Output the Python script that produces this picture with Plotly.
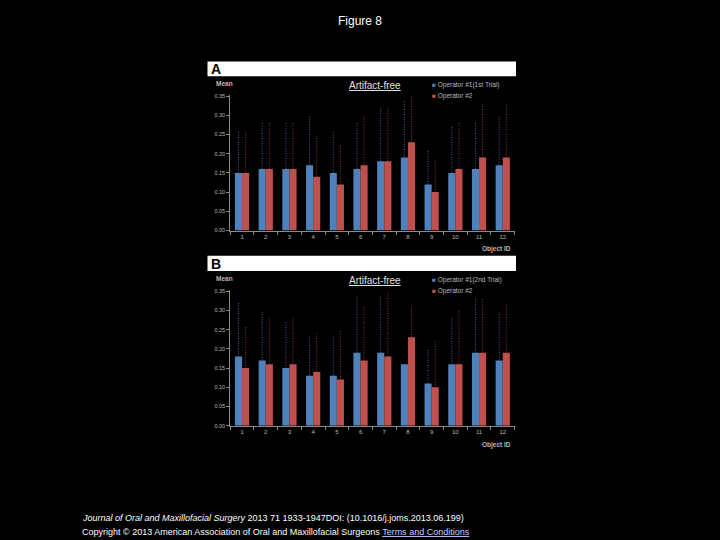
import plotly.graph_objects as go

# ---------------- data ----------------
object_ids = list(range(1, 13))
tick_labels = [str(i) for i in object_ids]
y_tick_vals = [0.00, 0.05, 0.10, 0.15, 0.20, 0.25, 0.30, 0.35]

# Panel A: Operator #1 (1st trial) vs Operator #2
a_op1_mean = [0.15, 0.16, 0.16, 0.17, 0.15, 0.16, 0.18, 0.19, 0.12, 0.15, 0.16, 0.17]
a_op1_top = [0.26, 0.28, 0.28, 0.30, 0.26, 0.28, 0.32, 0.34, 0.21, 0.27, 0.28, 0.30]
a_op2_mean = [0.15, 0.16, 0.16, 0.14, 0.12, 0.17, 0.18, 0.23, 0.10, 0.16, 0.19, 0.19]
a_op2_top = [0.26, 0.28, 0.28, 0.25, 0.22, 0.30, 0.32, 0.35, 0.18, 0.28, 0.33, 0.33]

# Panel B: Operator #1 (2nd trial) vs Operator #2
b_op1_mean = [0.18, 0.17, 0.15, 0.13, 0.13, 0.19, 0.19, 0.16, 0.11, 0.16, 0.19, 0.17]
b_op1_top = [0.32, 0.30, 0.27, 0.23, 0.23, 0.34, 0.34, 0.16, 0.20, 0.28, 0.33, 0.30]
b_op2_mean = [0.15, 0.16, 0.16, 0.14, 0.12, 0.17, 0.18, 0.23, 0.10, 0.16, 0.19, 0.19]
b_op2_top = [0.26, 0.28, 0.28, 0.24, 0.25, 0.31, 0.35, 0.31, 0.22, 0.30, 0.33, 0.32]

panel_a_names = ["Operator #1(1st Trial)", "Operator #2"]
panel_b_names = ["Operator #1(2nd Trial)", "Operator #2"]

# ---------------- style ----------------
BLUE = "#4F81BD"
RED = "#C0504D"
BLUE_ERR = "rgba(100,140,200,0.7)"
RED_ERR = "rgba(190,80,75,0.7)"
GRAY = "#b8b8b8"
FONT = "Liberation Sans, Arial, sans-serif"
BAR_W = 0.3

fig = go.Figure()


def err_segments(xs, offset, means, tops):
    ex, ey = [], []
    for x, m, t in zip(xs, means, tops):
        ex += [x + offset, x + offset, None]
        ey += [m, t, None]
    return ex, ey


def add_panel(row_suffix, op1_mean, op1_top, op2_mean, op2_top):
    xa = "x" + row_suffix
    ya = "y" + row_suffix
    fig.add_trace(go.Bar(x=object_ids, y=op1_mean, width=BAR_W, offset=-BAR_W,
                         marker=dict(color=BLUE, line=dict(width=0)),
                         xaxis=xa, yaxis=ya, showlegend=False))
    fig.add_trace(go.Bar(x=object_ids, y=op2_mean, width=BAR_W, offset=0,
                         marker=dict(color=RED, line=dict(width=0)),
                         xaxis=xa, yaxis=ya, showlegend=False))
    ex, ey = err_segments(object_ids, -BAR_W / 2, op1_mean, op1_top)
    fig.add_trace(go.Scatter(x=ex, y=ey, mode="lines",
                             line=dict(color=BLUE_ERR, width=1, dash="1px,1.5px"),
                             xaxis=xa, yaxis=ya, showlegend=False, hoverinfo="skip"))
    ex, ey = err_segments(object_ids, BAR_W / 2, op2_mean, op2_top)
    fig.add_trace(go.Scatter(x=ex, y=ey, mode="lines",
                             line=dict(color=RED_ERR, width=1, dash="1px,1.5px"),
                             xaxis=xa, yaxis=ya, showlegend=False, hoverinfo="skip"))


add_panel("", a_op1_mean, a_op1_top, a_op2_mean, a_op2_top)
add_panel("2", b_op1_mean, b_op1_top, b_op2_mean, b_op2_top)

W, H = 720, 540
x_dom = [230.2 / W, 514.6 / W]
Y_MAX = 0.352


def xaxis_cfg(anchor):
    return dict(domain=x_dom, range=[0.5, 12.5], anchor=anchor,
                tickmode="array", tickvals=object_ids, ticktext=tick_labels,
                ticks="", showgrid=False, zeroline=False,
                showline=True, linecolor="#8a8a8a", linewidth=1,
                tickfont=dict(size=6, color=GRAY, family=FONT),
                minor=dict(tick0=0.5, dtick=1, ticks="outside", ticklen=3,
                           tickcolor="#8a8a8a", showgrid=False))


def yaxis_cfg(anchor, dom):
    return dict(domain=dom, range=[0, Y_MAX], anchor=anchor,
                tickmode="array", tickvals=y_tick_vals,
                ticktext=["%.2f" % v for v in y_tick_vals],
                ticks="outside", ticklen=3, tickcolor="#8a8a8a",
                showgrid=False, zeroline=False,
                showline=True, linecolor="#8a8a8a", linewidth=1,
                tickfont=dict(size=5.5, color=GRAY, family=FONT))


a_zero, b_zero = 230.7, 427.7
scale = 388.0
fig.update_layout(
    width=W, height=H,
    margin=dict(l=0, r=0, t=0, b=0),
    paper_bgcolor="black", plot_bgcolor="black",
    barmode="overlay",
    showlegend=False,
    xaxis=xaxis_cfg("y"),
    yaxis=yaxis_cfg("x", [1 - a_zero / H, 1 - (a_zero - Y_MAX * scale) / H]),
    xaxis2=xaxis_cfg("y2"),
    yaxis2=yaxis_cfg("x2", [1 - b_zero / H, 1 - (b_zero - Y_MAX * scale) / H]),
)

shapes = []
annotations = []


def px_x(x):
    return x / W


def px_y(y):
    return 1 - y / H


# Figure title
annotations.append(dict(text="Figure 8", x=px_x(360), y=px_y(19), xref="paper", yref="paper",
                        showarrow=False, font=dict(size=12, color="white", family=FONT),
                        xanchor="center", yanchor="middle"))

for label, strip_top, strip_bot, zero_y, names in [
        ("A", 60, 75, a_zero, panel_a_names),
        ("B", 256, 271.5, b_zero, panel_b_names)]:
    shapes.append(dict(type="rect", xref="paper", yref="paper",
                       x0=px_x(207.5), x1=px_x(516), y0=px_y(strip_bot), y1=px_y(strip_top),
                       fillcolor="white", line=dict(width=0), layer="above"))
    annotations.append(dict(text="<b>" + label + "</b>", x=px_x(208.5), y=px_y((strip_top + strip_bot) / 2 + 0.5),
                            xref="paper", yref="paper", showarrow=False,
                            xanchor="left", yanchor="middle",
                            font=dict(size=14, color="black", family=FONT)))
    top_y = zero_y - 0.35 * scale
    # "Mean" label
    annotations.append(dict(text="<b>Mean</b>", x=px_x(214), y=px_y(top_y - 13),
                            xref="paper", yref="paper", showarrow=False,
                            xanchor="left", yanchor="middle",
                            font=dict(size=6.5, color=GRAY, family=FONT)))
    # "Object ID" label
    annotations.append(dict(text="<b>Object ID</b>", x=px_x(513), y=px_y(zero_y + 19),
                            xref="paper", yref="paper", showarrow=False,
                            xanchor="right", yanchor="middle",
                            font=dict(size=6.5, color=GRAY, family=FONT)))
    # Title
    annotations.append(dict(text="<u>Artifact-free</u>", x=px_x(375), y=px_y(top_y - 11),
                            xref="paper", yref="paper", showarrow=False,
                            xanchor="center", yanchor="middle",
                            font=dict(size=10, color="#e0e0e0", family=FONT)))
    # Legend
    for i, (nm, col) in enumerate(zip(names, [BLUE, RED])):
        annotations.append(dict(
            text='<span style="color:%s">■</span> %s' % (col, nm),
            x=px_x(430), y=px_y(top_y - 11.5 + i * 11),
            xref="paper", yref="paper", showarrow=False,
            xanchor="left", yanchor="middle",
            font=dict(size=6.5, color=GRAY, family=FONT)))

# Footer
annotations.append(dict(
    text="<i>Journal of Oral and Maxillofacial Surgery</i> 2013 71 1933-1947DOI: (10.1016/j.joms.2013.06.199)",
    x=px_x(80), y=px_y(521), xref="paper", yref="paper", showarrow=False,
    xanchor="left", yanchor="middle", font=dict(size=9, color="white", family=FONT)))
annotations.append(dict(
    text='Copyright © 2013 American Association of Oral and Maxillofacial Surgeons '
         '<span style="color:#c8c8ff"><u>Terms and Conditions</u></span>',
    x=px_x(80), y=px_y(534.5), xref="paper", yref="paper", showarrow=False,
    xanchor="left", yanchor="middle", font=dict(size=9, color="white", family=FONT)))

fig.update_layout(shapes=shapes, annotations=annotations)
fig.write_html("out.html", config={"displayModeBar": False},
               post_script="document.body.style.margin='0';document.body.style.background='black';")
